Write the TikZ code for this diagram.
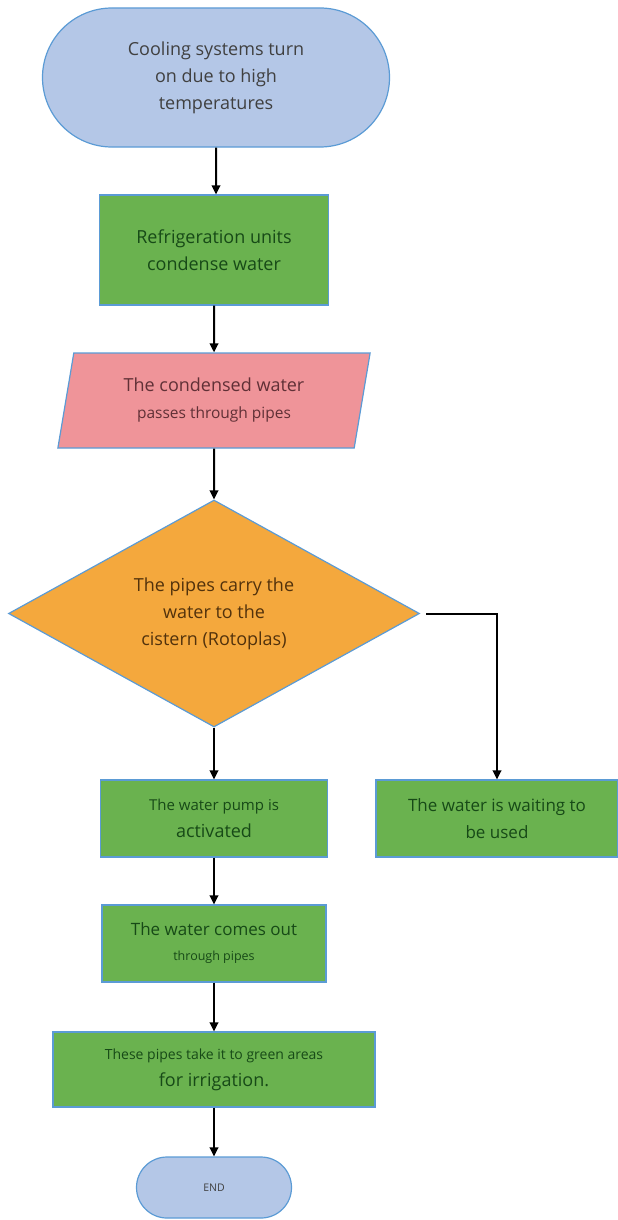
\documentclass[tikz,border=0pt]{standalone}
\usepackage{fontspec}
\setmainfont{Open Sans}
\usetikzlibrary{shapes.geometric, shapes.misc, arrows.meta}
\definecolor{termblue}{HTML}{B4C7E7}
\definecolor{edgeblue}{HTML}{5B9BD5}
\definecolor{boxgreen}{HTML}{6AB24F}
\definecolor{iopink}{HTML}{EF9499}
\definecolor{decorange}{HTML}{F4A83D}
\definecolor{greentext}{HTML}{174A17}
\newcommand{\smalltext}[2]{{\fontsize{#1}{27}\selectfont #2}}

\begin{document}
\begin{tikzpicture}[x=1pt, y=-1pt,
    every node/.style={align=center, inner sep=0pt, line width=1.2pt, draw=edgeblue,
        font=\fontsize{18}{27}\selectfont},
    term/.style={rounded rectangle, fill=termblue, text=black!75},
    box/.style={rectangle, fill=boxgreen, text=greentext},
    io/.style={trapezium, trapezium left angle=77, trapezium right angle=103,
        trapezium stretches=true, fill=iopink, text={rgb,255:red,96;green,48;blue,54}},
    decision/.style={diamond, aspect=1.8, fill=decorange, text={rgb,255:red,82;green,50;blue,12}},
    flow/.style={line width=2pt, -{Triangle[length=9pt, width=8.5pt]}}]
    \useasboundingbox (0, 0) rectangle (618, 1220);
    \node[term, minimum width=347, minimum height=139] (start) at (216, 77.5)
        {Cooling systems turn\\on due to high\\temperatures};
    \node[box, minimum width=229, minimum height=110] (units) at (214, 250)
        {Refrigeration units\\condense water};
    \node[io, minimum width=313, minimum height=95] (pipes) at (214, 400.5)
        {The condensed water\\\smalltext{15.5}{passes through pipes}};
    \node[decision, minimum width=411, minimum height=227] (cistern) at (214, 613.5)
        {The pipes carry the\\water to the\\cistern (Rotoplas)};
    \node[box, minimum width=227, minimum height=77] (pump) at (214, 818.5)
        {\smalltext{15}{The water pump is}\\activated};
    \node[box, minimum width=242, minimum height=77, font=\fontsize{17}{27}\selectfont] (wait) at (497, 818.5)
        {The water is waiting to\\be used};
    \node[box, minimum width=224, minimum height=77, font=\fontsize{17}{25}\selectfont] (out) at (214, 943.5)
        {The water comes out\\\smalltext{12.5}{through pipes}};
    \node[box, minimum width=322, minimum height=75] (irrigation) at (214, 1069.5)
        {\smalltext{14}{These pipes take it to green areas}\\for irrigation.};
    \node[term, minimum width=155, minimum height=61, font=\fontsize{10.5}{12}\selectfont] (end) at (214, 1187.5)
        {END};
    \draw[flow] (start) -- (start |- units.north);
    \draw[flow] (units) -- (pipes);
    \draw[flow] (pipes) -- (cistern);
    \draw[flow] (cistern) -- (pump);
    \draw[flow, shorten <=6pt] (cistern.east) -| (wait.north);
    \draw[flow] (pump) -- (out);
    \draw[flow] (out) -- (irrigation);
    \draw[flow] (irrigation) -- (end);
\end{tikzpicture}
\end{document}
